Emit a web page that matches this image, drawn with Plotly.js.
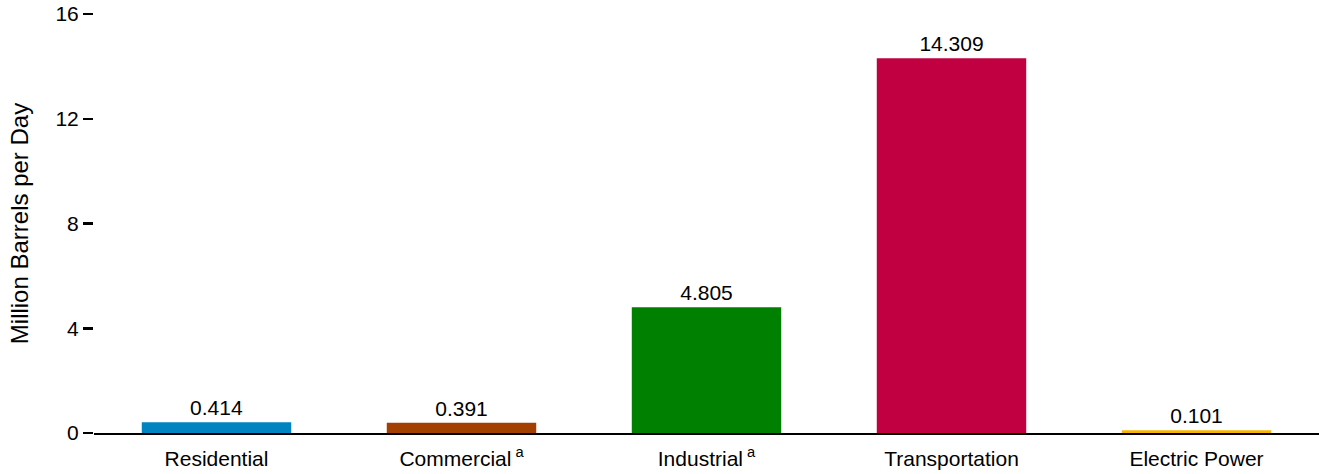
<!DOCTYPE html>
<html>
<head>
<meta charset="utf-8">
<script src="https://cdn.plot.ly/plotly-3.0.1.min.js"></script>
<style>html,body{margin:0;padding:0;background:#fff;}#chart{width:1319px;height:474px;}</style>
</head>
<body>
<div id="chart"></div>
<script>
const categories = ["Residential", "Commercial<sup> a</sup>", "Industrial<sup> a</sup>", "Transportation", "Electric Power"];
const values = [0.414, 0.391, 4.805, 14.309, 0.101];
const valueLabels = ["0.414", "0.391", "4.805", "14.309", "0.101"];
const barColors = ["#0083C1", "#A33F00", "#008000", "#C10042", "#F7B500"];
const yTicks = [0, 4, 8, 12, 16];

const trace = {
  type: "bar",
  x: categories,
  y: values,
  text: valueLabels,
  textposition: "outside",
  cliponaxis: false,
  textfont: {family: "Liberation Sans, Arial, sans-serif", size: 21, color: "#000"},
  marker: {color: barColors, line: {width: 0}},
  hoverinfo: "x+y"
};

const layout = {
  width: 1319, height: 474,
  margin: {l: 94, r: 0, t: 14, b: 41},
  paper_bgcolor: "#fff", plot_bgcolor: "#fff",
  font: {family: "Liberation Sans, Arial, sans-serif", size: 21, color: "#000"},
  bargap: 0.39,
  showlegend: false,
  xaxis: {
    showline: true, linecolor: "#000", linewidth: 2,
    showgrid: false, zeroline: false,
    ticks: "outside", ticklen: 6, tickcolor: "rgba(0,0,0,0)",
    tickfont: {size: 21, color: "#000"},
    fixedrange: true
  },
  yaxis: {
    range: [0, 16],
    tickvals: yTicks,
    ticktext: yTicks.map(String),
    showline: false, showgrid: false, zeroline: false,
    ticks: "outside", ticklen: 10, tickwidth: 2.5, tickcolor: "#000",
    tickfont: {size: 21, color: "#000"},
    title: {text: "Million Barrels per Day", font: {size: 24, color: "#000"}, standoff: 20},
    fixedrange: true
  }
};

Plotly.newPlot("chart", [trace], layout, {displayModeBar: false, staticPlot: true});
</script>
</body>
</html>
